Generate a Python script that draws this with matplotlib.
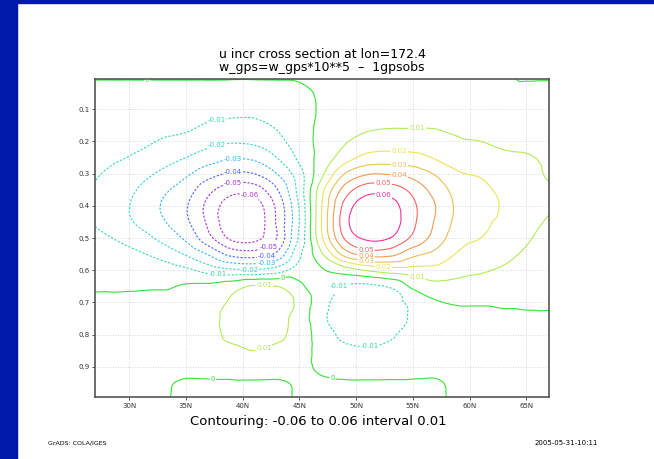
import numpy as np
import matplotlib
matplotlib.use('Agg')
import matplotlib.pyplot as plt
import matplotlib.tri as mtri
from matplotlib.patches import Rectangle

# latitude (deg N) and sigma levels of the cross section at lon=172.4
lat_pts = [27, 29, 31, 33, 35, 37, 39, 41, 43, 45, 47, 49, 51, 53, 55, 57, 59, 61, 63, 65, 67]
sigma_pts = [0.0, 0.05, 0.10, 0.15, 0.20, 0.25, 0.30, 0.35, 0.40, 0.45, 0.50,
             0.55, 0.60, 0.65, 0.70, 0.75, 0.80, 0.85, 0.90, 0.95, 1.0]

# u increment, units of 1e-3 (one row per sigma level)
u_milli = [
    [1, 1, 1, 1, 1, 1, 1, 1, 1, 1, 1, 1, 1, 1, 1, 1, 1, 1, 1, -1, -1],
    [-4, -4, -4, -4, -4, -4, -5, -5, -4, -2, 1, 3, 4, 4, 4, 3, 2, 2, 2, 3, 3],
    [-5, -5, -5, -5, -6, -7, -8, -8, -6, -3, 1, 4, 5, 5, 5, 5, 4, 3, 3, 3, 2],
    [-5, -5, -6, -7, -8, -11, -12, -12, -9, -4, 2, 5, 8, 9, 9, 9, 8, 6, 5, 5, 4],
    [-5, -6, -8, -11, -13, -17, -19, -18, -13, -5, 3, 9, 14, 15, 15, 14, 11, 10, 8, 7, 5],
    [-8, -9, -12, -16, -20, -25, -29, -28, -20, -8, 4, 15, 23, 24, 23, 19, 15, 14, 12, 11, 8],
    [-9, -13, -17, -22, -28, -36, -41, -40, -30, -14, 8, 30, 39, 39, 36, 29, 21, 19, 16, 13, 9],
    [-11, -15, -21, -28, -35, -47, -56, -55, -41, -16, 17, 44, 56, 55, 47, 36, 26, 22, 18, 14, 11],
    [-12, -17, -23, -31, -39, -53, -65, -65, -48, -19, 20, 53, 66, 64, 52, 40, 28, 24, 19, 14, 11],
    [-11, -16, -22, -29, -38, -52, -67, -67, -49, -20, 21, 56, 69, 66, 52, 39, 27, 22, 18, 13, 9],
    [-7, -11, -16, -23, -32, -47, -62, -63, -50, -18, 19, 51, 62, 60, 48, 36, 24, 20, 15, 11, 7],
    [-4, -6, -9, -14, -21, -31, -43, -45, -38, -12, 9, 34, 44, 43, 33, 27, 19, 15, 12, 9, 6],
    [-2, -2, -3, -5, -8, -14, -18, -19, -15, -5, -1, 5, 11, 15, 16, 17, 13, 11, 9, 7, 5],
    [-1, -1, -1, -1, 1, 2, 6, 11, 10, 2, -6, -11, -12, -9, 2, 7, 7, 6, 5, 4, 3],
    [2, 2, 3, 3, 4, 6, 11, 14, 13, 8, -7, -13, -14, -12, -8, -1, 1, 1, 2, 2, 2],
    [3, 3, 3, 3, 5, 7, 13, 16, 13, 6, -8, -14, -16, -13, -9, -5, -3, -3, -3, -2, -2],
    [3, 3, 3, 3, 5, 7, 12, 14, 12, 6, -5, -12, -13, -11, -7, -5, -3, -3, -3, -3, -3],
    [3, 3, 3, 3, 4, 6, 8, 10, 8, 5, -4, -8, -9, -8, -6, -4, -3, -3, -3, -3, -3],
    [3, 3, 3, 3, 3, 4, 5, 6, 5, 4, -3, -5, -6, -5, -4, -3, -3, -3, -3, -3, -3],
    [3, 3, 3, 1, -1, -1, -1, -1, -1, 1, 2, 1, 1, 1, 1, 1, -2, -3, -3, -3, -3],
    [3, 3, 3, 1, -3, -3, -3, -3, -3, 1, 3, 3, 3, 3, 3, 2, -2, -3, -3, -3, -3],
]

levels = [-0.06, -0.05, -0.04, -0.03, -0.02, -0.01, 0.0, 0.01, 0.02, 0.03, 0.04, 0.05, 0.06]
# grads rainbow
line_colors = ['#b333d3', '#9b33e3', '#4b63ff', '#33b3ff', '#33d3d3', '#33dba3', '#33e333',
               '#b3eb5b', '#ebe35b', '#ebbf57', '#f39b53', '#fb6363', '#f3339b']
line_styles = [(0, (2, 1.5)) if v < 0 else 'solid' for v in levels]

# where the contour labels sit (lat, sigma)
label_spots = [(37.7, 0.131), (37.7, 0.214), (39.1, 0.254), (39.1, 0.292), (39.1, 0.325), (40.6, 0.369),
               (42.4, 0.532), (42.1, 0.551), (42.1, 0.57), (40.6, 0.596), (37.8, 0.615),
               (43.5, 0.619), (31.6, 0.01), (37.4, 0.934), (47.9, 0.937),
               (41.9, 0.65), (41.9, 0.844), (48.3, 0.637), (51.2, 0.841),
               (55.4, 0.149), (53.8, 0.233), (53.8, 0.27), (53.8, 0.30), (52.4, 0.329), (52.4, 0.372),
               (50.9, 0.529), (50.9, 0.551), (50.9, 0.57), (52.4, 0.588), (55.4, 0.616)]

LA, S = np.meshgrid(lat_pts, sigma_pts)
u_incr = np.array(u_milli) * 1e-3

fig = plt.figure(figsize=(6.54, 4.59), dpi=100)
fig.add_artist(Rectangle((0, 0), 17 / 654, 1, transform=fig.transFigure, color='#0019a8', zorder=0))
fig.add_artist(Rectangle((0, 1 - 3 / 459), 1, 3 / 459, transform=fig.transFigure, color='#0019a8', zorder=0))

ax = fig.add_axes([95 / 654, 62 / 459, 454 / 654, 318 / 459])
ax.set_xlim(27, 67)
ax.set_ylim(0.994, 0.006)

# smooth the coarse grid with the cubic refiner (square cells in index space)
tri = mtri.Triangulation(LA.ravel() / 2.0, S.ravel() / 0.05)
interp = mtri.CubicTriInterpolator(tri, u_incr.ravel(), kind='geom')
tri_f, z_f = mtri.UniformTriRefiner(tri).refine_field(u_incr.ravel(), triinterpolator=interp, subdiv=3)
tri_f = mtri.Triangulation(tri_f.x * 2.0, tri_f.y * 0.05, tri_f.triangles)
cs = ax.tricontour(tri_f, z_f, levels=levels, colors=line_colors, linewidths=0.8, linestyles=line_styles)
labels = ax.clabel(cs, manual=label_spots, fmt=lambda v: '0' if abs(v) < 1e-9 else '%.2f' % v,
                   fontsize=5, inline=True, inline_spacing=1)
for txt in labels:
    txt.set_rotation(0)

ax.set_xticks(range(30, 66, 5))
ax.set_xticklabels(['%dN' % v for v in range(30, 66, 5)])
ax.set_yticks(np.round(np.arange(0.1, 0.91, 0.1), 1))
ax.set_yticklabels(['%.1f' % v for v in np.arange(0.1, 0.91, 0.1)])
ax.tick_params(labelsize=5, length=2.5, width=0.6, pad=1.5, colors='#333333')
ax.grid(True, linestyle=(0, (1, 2)), color='#c8c8c8', linewidth=0.6)
for sp in ax.spines.values():
    sp.set_color('#555555')
    sp.set_linewidth(1.2)

fig.text(322 / 654, 1 - 54 / 459, 'u incr cross section at lon=172.4', ha='center', va='center', fontsize=9)
fig.text(322 / 654, 1 - 68 / 459, 'w_gps=w_gps*10**5  \u2013  1gpsobs', ha='center', va='center', fontsize=9)
fig.text(318 / 654, 1 - 421 / 459, 'Contouring: -0.06 to 0.06 interval 0.01', ha='center', va='center', fontsize=9.5)
fig.text(48 / 654, 1 - 443 / 459, 'GrADS: COLA/IGES', ha='left', va='center', fontsize=4.5)
fig.text(598 / 654, 1 - 443 / 459, '2005-05-31-10:11', ha='right', va='center', fontsize=5)

fig.savefig('out.png', dpi=100)
